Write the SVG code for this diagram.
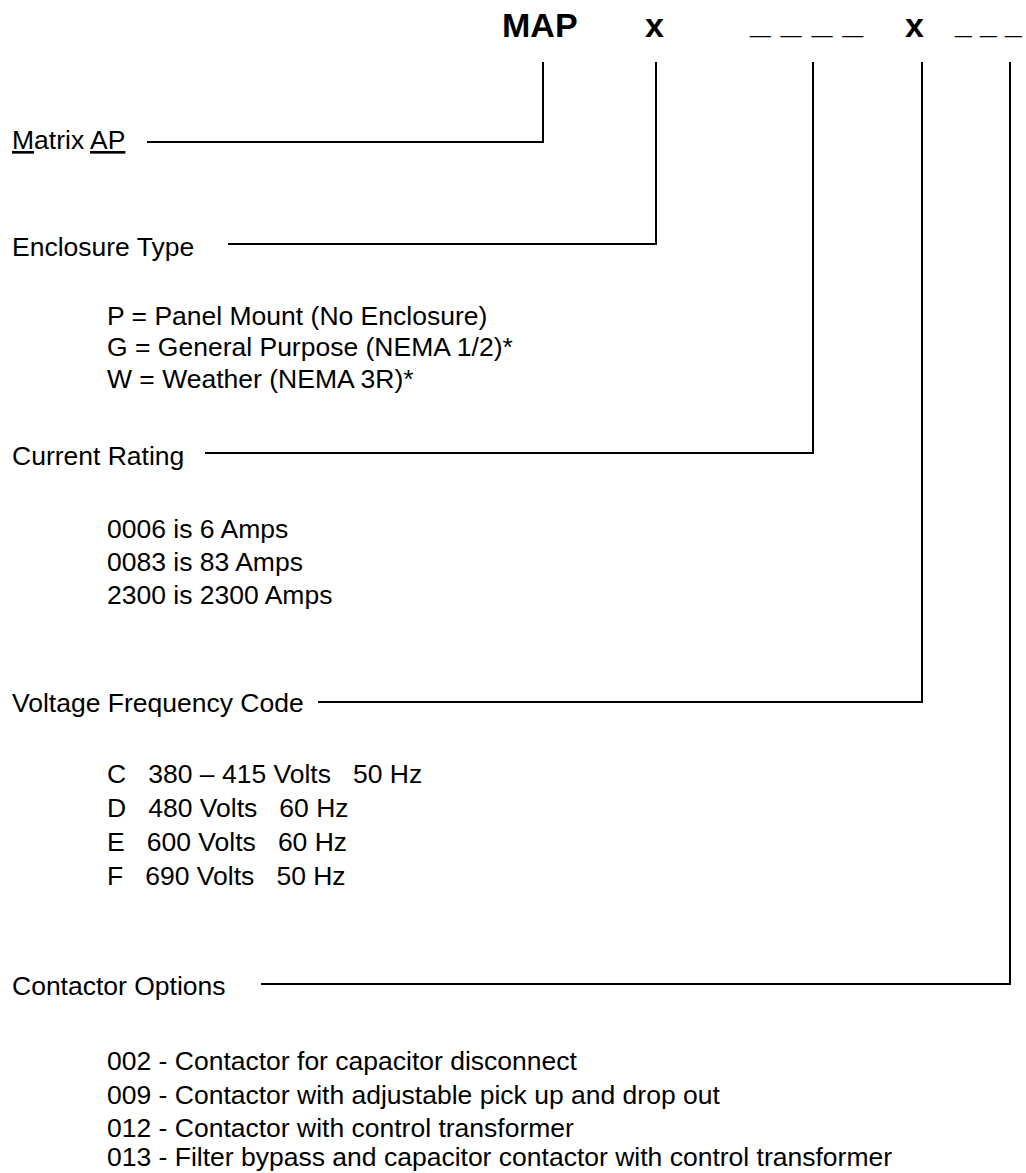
<svg xmlns="http://www.w3.org/2000/svg" width="1026" height="1173" viewBox="0 0 1026 1173">
<style>
text{font-family:"Liberation Sans",Arial,sans-serif;fill:#000}
.h{font-size:34px;font-weight:bold}
.us{font-size:37px;font-weight:bold}
.us2{font-size:30px;font-weight:bold}
.t{font-size:26.5px}
.c polyline{stroke:#000;stroke-width:2;fill:none}
.u{text-decoration:underline}
</style>
<rect width="1026" height="1173" fill="#fff"/>
<g id="code">
<text class="h" x="502" y="37">MAP</text>
<text class="h" x="645" y="37">x</text>
<text class="us" x="750" y="33" xml:space="preserve">_ _ _ _</text>
<text class="h" x="905" y="37">x</text>
<text class="us2" x="955" y="34" xml:space="preserve">_ _ _</text>
</g>
<g class="c" id="connectors">
<polyline points="543,62 543,142 147,142"/>
<polyline points="656,62 656,244 228,244"/>
<polyline points="813,62 813,453 205,453"/>
<polyline points="922,62 922,702 318,702"/>
<polyline points="1010,62 1010,984 261,984"/>
</g>
<g id="matrix">
<text class="t" x="12" y="149"><tspan class="u">M</tspan>atrix <tspan class="u">AP</tspan></text>
</g>
<g id="enclosure">
<text class="t" x="12" y="256">Enclosure Type</text>
<text class="t" x="107" y="325">P = Panel Mount (No Enclosure)</text>
<text class="t" x="107" y="356">G = General Purpose (NEMA 1/2)*</text>
<text class="t" x="107" y="388">W = Weather (NEMA 3R)*</text>
</g>
<g id="current">
<text class="t" x="12" y="465">Current Rating</text>
<text class="t" x="107" y="538">0006 is 6 Amps</text>
<text class="t" x="107" y="571">0083 is 83 Amps</text>
<text class="t" x="107" y="604">2300 is 2300 Amps</text>
</g>
<g id="voltage">
<text class="t" x="12" y="712">Voltage Frequency Code</text>
<text class="t" x="107" y="783" xml:space="preserve">C   380 – 415 Volts   50 Hz</text>
<text class="t" x="107" y="817" xml:space="preserve">D   480 Volts   60 Hz</text>
<text class="t" x="107" y="851" xml:space="preserve">E   600 Volts   60 Hz</text>
<text class="t" x="107" y="885" xml:space="preserve">F   690 Volts   50 Hz</text>
</g>
<g id="contactor">
<text class="t" x="12" y="995">Contactor Options</text>
<text class="t" x="107" y="1070">002 - Contactor for capacitor disconnect</text>
<text class="t" x="107" y="1104">009 - Contactor with adjustable pick up and drop out</text>
<text class="t" x="107" y="1137">012 - Contactor with control transformer</text>
<text class="t" x="107" y="1166">013 - Filter bypass and capacitor contactor with control transformer</text>
</g>
</svg>
